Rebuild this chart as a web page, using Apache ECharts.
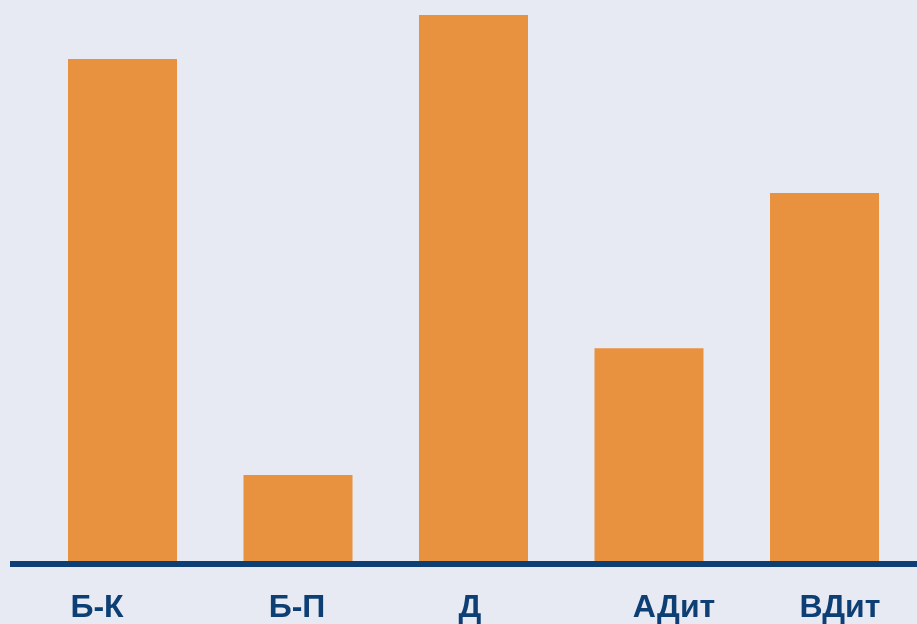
<!DOCTYPE html>
<html>
<head>
<meta charset="utf-8">
<script src="https://cdn.jsdelivr.net/npm/echarts@6/dist/echarts.min.js"></script>
<style>
html,body{margin:0;padding:0;background:#E7EAF2;}
#c{width:917px;height:624px;}
</style>
</head>
<body>
<div id="c"></div>
<script>
const categories = ['Б-К', 'Б-П', 'Д', 'АДит', 'ВДит'];
const values = [92.0, 16.2, 100, 39.3, 67.6];
// horizontal label shift per category (px)
const labelShift = [-25.5, -1, -3.5, 25, 15.5];

const rich = {};
labelShift.forEach((s, i) => {
  rich['l' + i] = {
    fontSize: 32, fontWeight: 'bold', color: '#0E3F74',
    fontFamily: 'Liberation Sans, Arial, sans-serif',
    padding: s < 0 ? [0, -2 * s, 0, 0] : [0, 0, 0, 2 * s]
  };
});

const chart = echarts.init(document.getElementById('c'));
chart.setOption({
  backgroundColor: '#E7EAF2',
  animation: false,
  grid: { left: 34.75, right: 4.75, top: 15, bottom: 60 },
  xAxis: {
    type: 'category',
    data: categories,
    axisLine: { show: false },
    axisTick: { show: false },
    axisLabel: {
      margin: 28,
      formatter: (v, i) => '{l' + i + '|' + v + '}',
      rich: rich
    }
  },
  yAxis: {
    type: 'value', min: 0, max: 100, show: false,
    splitLine: { show: false }
  },
  series: [{
    type: 'bar',
    data: values,
    barWidth: 109,
    itemStyle: { color: '#E8913F' },
    z: 2
  }],
  graphic: [{
    type: 'rect',
    shape: { x: 10, y: 561, width: 907, height: 6 },
    style: { fill: '#0E3F74' },
    z: 10
  }]
});
</script>
</body>
</html>
